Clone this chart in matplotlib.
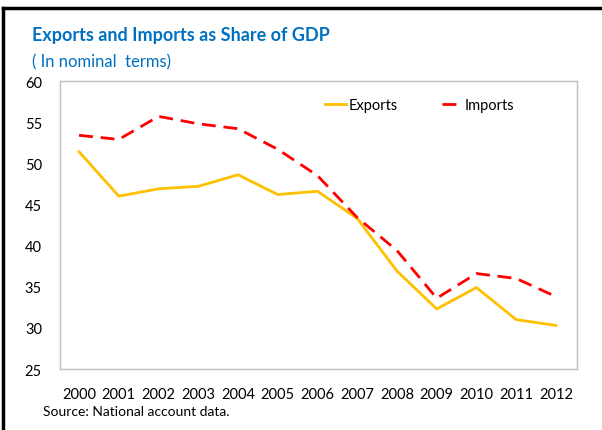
import matplotlib
matplotlib.use("Agg")
import matplotlib.pyplot as plt
from matplotlib.lines import Line2D

years = [2000, 2001, 2002, 2003, 2004, 2005, 2006, 2007, 2008, 2009, 2010, 2011, 2012]
exports = [51.4, 46.0, 46.9, 47.2, 48.6, 46.2, 46.6, 43.3, 36.9, 32.3, 34.9, 31.0, 30.3]
imports = [53.4, 52.9, 55.7, 54.8, 54.2, 51.7, 48.5, 43.4, 39.4, 33.6, 36.6, 36.0, 33.8]
yticks = [25, 30, 35, 40, 45, 50, 55, 60]

plt.rcParams['font.family'] = ['Lato', 'DejaVu Sans']

fig = plt.figure(figsize=(6.02, 4.31), dpi=100)
ax = fig.add_axes([60/602, 1-370/431, (577-60)/602, (370-82)/431])

ax.plot(years, exports, color='#FFC000', lw=2.0, label='Exports')
ax.plot(years, imports, color='#FF0000', lw=2.0, ls=(0, (5, 2.8)), label='Imports')

ax.set_xlim(1999.52, 2012.53)
ax.set_ylim(25, 60)
ax.set_yticks(yticks)
ax.set_xticks(years)
ax.set_xticklabels([str(y) for y in years])
ax.tick_params(axis='both', length=0, labelsize=10.5, colors='black')
ax.tick_params(axis='y', pad=13)
ax.tick_params(axis='x', pad=13)
for s in ax.spines.values():
    s.set_color('#BFBFBF')
    s.set_linewidth(1.0)

ax.legend(loc='upper left', bbox_to_anchor=(0.488, 0.985), ncol=2, frameon=False,
          fontsize=10.5, handlelength=1.4, handletextpad=0.2, columnspacing=3.0)

fig.text(32/602, 1-35/431, 'Exports and Imports as Share of GDP', color='#0070C0',
         fontsize=13, fontweight='bold', va='center', ha='left')
fig.text(32/602, 1-62/431, '( In nominal  terms)', color='#0070C0',
         fontsize=12, va='center', ha='left')
fig.text(43/602, 1-412/431, 'Source: National account data.', color='black',
         fontsize=10, va='center', ha='left')

# figure border (left and top)
fig.add_artist(Line2D([3/602, 3/602], [0, 1-9/431], transform=fig.transFigure, color='black', lw=2.5))
fig.add_artist(Line2D([3/602, 1], [1-9/431, 1-9/431], transform=fig.transFigure, color='black', lw=2.5))

fig.savefig('out.png', dpi=100)
